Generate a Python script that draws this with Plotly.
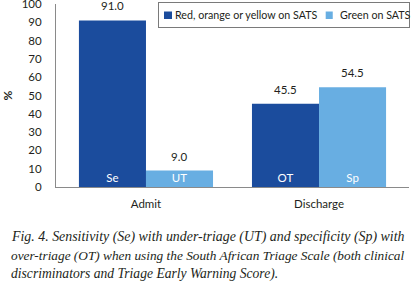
import plotly.graph_objects as go

categories = ["Admit", "Discharge"]
red_vals = [91.0, 45.5]
green_vals = [9.0, 54.5]
red_labels = ["Se", "OT"]
green_labels = ["UT", "Sp"]
red_name = "Red, orange or yellow on SATS"
green_name = "Green on SATS"
y_ticks = list(range(0, 101, 10))
caption_lines = [
    "Fig. 4. Sensitivity (Se) with under-triage (UT) and specificity (Sp) with",
    "over-triage (OT) when using the South African Triage Scale (both clinical",
    "discriminators and Triage Early Warning Score).",
]

DARK = "#1b4c9d"
LIGHT = "#68aee2"
FONT = "Lato"
TXT = "#231f20"
GRAY = "#8a8a8a"

fig = go.Figure()
fig.add_trace(go.Bar(
    x=categories, y=red_vals, name=red_name, marker=dict(color=DARK, line_width=0),
    text=red_labels, textposition="inside", insidetextanchor="start",
    textfont=dict(color="white", size=11.5, family=FONT), showlegend=False,
))
fig.add_trace(go.Bar(
    x=categories, y=green_vals, name=green_name, marker=dict(color=LIGHT, line_width=0),
    text=green_labels, textposition="inside", insidetextanchor="start",
    textfont=dict(color="white", size=11.5, family=FONT), showlegend=False,
))

half = 33.5
annotations = []
for c, v in zip(categories, red_vals):
    annotations.append(dict(x=c, y=v, text=f"{v:.1f}", xshift=-half, yshift=6, yanchor="bottom",
                            showarrow=False, font=dict(size=11.5, family=FONT, color=TXT)))
for c, v in zip(categories, green_vals):
    annotations.append(dict(x=c, y=v, text=f"{v:.1f}", xshift=half, yshift=6, yanchor="bottom",
                            showarrow=False, font=dict(size=11.5, family=FONT, color=TXT)))

cap_y = [-0.273, -0.372, -0.475]
cap_size = [13.9, 13.3, 13.6]
for line, yy, sz in zip(caption_lines, cap_y, cap_size):
    annotations.append(dict(xref="paper", yref="paper", x=-0.133, y=yy, xanchor="left", yanchor="middle",
                            text=f"<i>{line}</i>", showarrow=False, align="left",
                            font=dict(size=sz, family="Liberation Serif", color=TXT)))

# legend frame
annotations.append(dict(xref="paper", yref="paper", x=0.289, y=1.012, xanchor="left", yanchor="top",
                        text=" ", showarrow=False, width=250, height=24, borderpad=0,
                        bordercolor="#7a7a7a", borderwidth=1, bgcolor="rgba(0,0,0,0)"))

# legend swatches and labels
leg_text_x = [0.3314, 0.7989]
leg_sq_x = [(0.306, 0.3286), (0.764, 0.784)]
leg_names = [red_name, green_name]
leg_colors = [DARK, LIGHT]
shapes = []
for name, col, tx, (sx0, sx1) in zip(leg_names, leg_colors, leg_text_x, leg_sq_x):
    shapes.append(dict(type="rect", xref="paper", yref="paper", x0=sx0, x1=sx1, y0=0.918, y1=0.959,
                       line=dict(width=0), fillcolor=col, layer="above"))
    annotations.append(dict(xref="paper", yref="paper", x=tx, y=0.940, xanchor="left", yanchor="middle",
                            text=name, showarrow=False,
                            font=dict(size=10.7, family=FONT, color=TXT)))

fig.update_layout(
    width=412, height=291,
    showlegend=False,
    margin=dict(l=56, r=3, t=4, b=104, autoexpand=False),
    paper_bgcolor="white", plot_bgcolor="white",
    barmode="group", bargap=0.225, bargroupgap=0,
    uniformtext=dict(minsize=11.5, mode="show"),
    font=dict(family=FONT, size=11, color=TXT),
    xaxis=dict(type="category", range=[-0.52, 1.52], showline=True, linecolor=GRAY,
               linewidth=1, ticks="", showgrid=False, ticklabelstandoff=6,
               tickfont=dict(size=11.5, family=FONT, color=TXT)),
    yaxis=dict(range=[0, 100], tickvals=y_ticks, showline=True, linecolor=GRAY,
               linewidth=1, ticks="", showgrid=False, zeroline=False, ticklabelstandoff=11,
               ticklabeloverflow="allow",
               tickfont=dict(size=11.5, family=FONT, color=TXT),
               title=dict(text="<b>%</b>", standoff=25, font=dict(size=12, family=FONT, color=TXT))),
    shapes=shapes,
    annotations=annotations,
)

fig.write_html("out.html", config={"displayModeBar": False},
               post_script="document.body.style.margin='0';document.body.style.overflow='hidden';")
